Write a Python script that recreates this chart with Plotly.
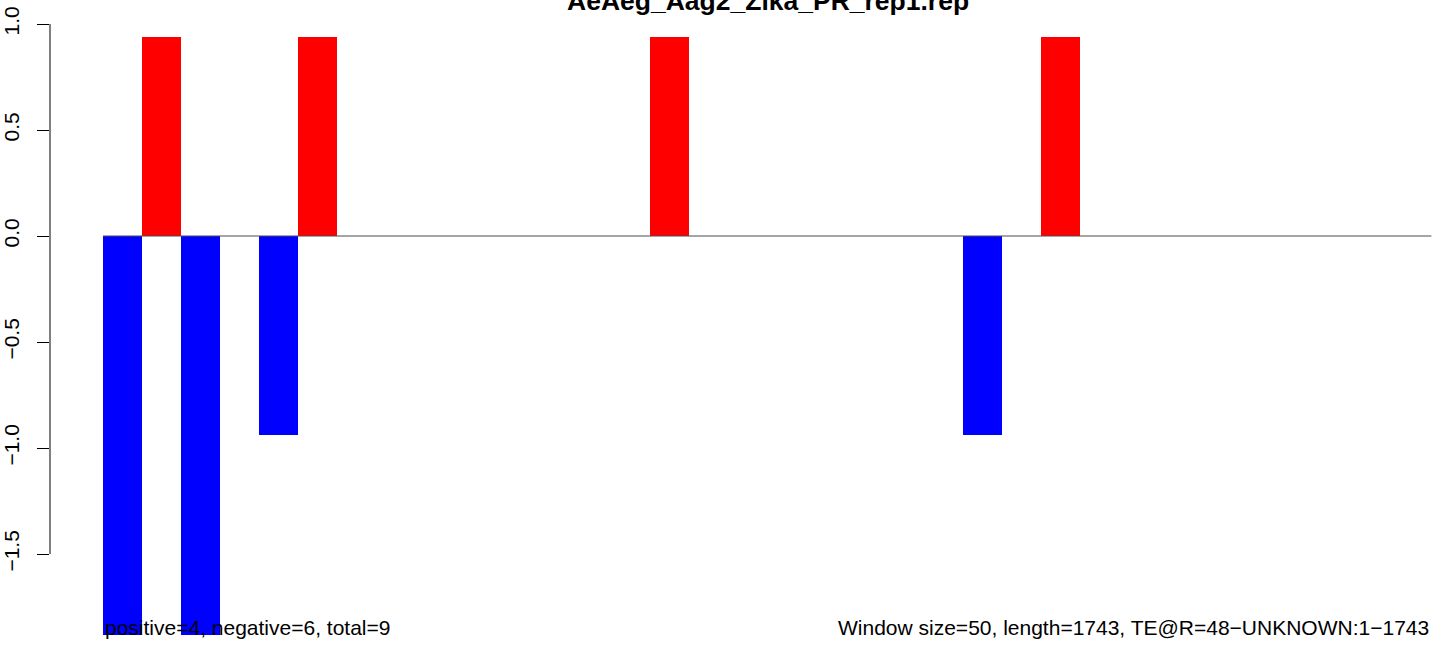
import plotly.graph_objects as go

# ---- data ----
title_text = "AeAeg_Aag2_Zika_PR_rep1.rep"
n_windows = 34
window_index = list(range(n_windows))
pos_idx = [1, 5, 14, 24]
pos_vals = [0.94, 0.94, 0.94, 0.94]
neg_idx = [0, 2, 4, 22]
neg_vals = [-1.88, -1.88, -0.94, -0.94]
y_tickvals = [-1.5, -1.0, -0.5, 0.0, 0.5, 1.0]
y_ticktext = ["\u22121.5", "\u22121.0", "\u22120.5", "0.0", "0.5", "1.0"]
left_note = "positive=4, negative=6, total=9"
right_note = "Window size=50, length=1743, TE@R=48\u2212UNKNOWN:1\u22121743"

W, H = 1444, 646
ML = 50
FONT = "Liberation Sans, Arial, Helvetica, sans-serif"


def px_x(px):
    return (px - ML) / (W - ML)


def px_y(py):
    return 1 - py / H


fig = go.Figure()
fig.add_trace(go.Bar(x=neg_idx, y=neg_vals, width=1, marker=dict(color="#0000FF", line=dict(width=0)),
                     showlegend=False, hoverinfo="x+y"))
fig.add_trace(go.Bar(x=pos_idx, y=pos_vals, width=1, marker=dict(color="#FF0000", line=dict(width=0)),
                     showlegend=False, hoverinfo="x+y"))

# zero reference line spanning all windows
fig.add_shape(type="line", xref="x", yref="y", x0=window_index[0] - 0.5, x1=window_index[-1] + 0.5,
              y0=0, y1=0, line=dict(color="#4d4d4d", width=1), layer="above")
# R-style y axis line spanning first to last tick
fig.add_shape(type="line", xref="paper", yref="y", x0=0, x1=0, y0=min(y_tickvals), y1=max(y_tickvals),
              line=dict(color="black", width=1))

px_per_unit = 39.07
x_left = -0.5 - (103 - ML) / px_per_unit
x_right = -0.5 + (W - 103) / px_per_unit
y_top = 236 / 212
y_bot = -(H - 236) / 212

fig.update_layout(
    width=W, height=H,
    margin=dict(l=ML, r=0, t=0, b=0, autoexpand=False),
    plot_bgcolor="white", paper_bgcolor="white",
    bargap=0, barmode="overlay",
    font=dict(family=FONT, color="black", size=21),
    xaxis=dict(range=[x_left, x_right], visible=False, showgrid=False, zeroline=False, automargin=False),
    yaxis=dict(range=[y_bot, y_top], tickvals=y_tickvals, ticktext=y_ticktext, tickangle=-90,
               ticks="outside", ticklen=12, tickwidth=1, tickcolor="black", showgrid=False,
               zeroline=False, showline=False, ticklabelstandoff=10, automargin=False,
               tickfont=dict(family=FONT, size=21, color="black")),
    annotations=[
        dict(text="<b>" + title_text + "</b>", xref="paper", yref="paper", x=px_x(768), y=px_y(1),
             xanchor="center", yanchor="middle", showarrow=False,
             font=dict(family=FONT, size=26.5, color="black")),
        dict(text=left_note, xref="paper", yref="paper", x=px_x(103), y=px_y(627),
             xanchor="left", yanchor="middle", showarrow=False,
             font=dict(family=FONT, size=21, color="black")),
        dict(text=right_note, xref="paper", yref="paper", x=px_x(1431), y=px_y(627),
             xanchor="right", yanchor="middle", showarrow=False,
             font=dict(family=FONT, size=21, color="black")),
    ],
)

fig.write_html("out.html", config={"displayModeBar": False},
               post_script="document.body.style.margin='0';document.body.style.padding='0';")
